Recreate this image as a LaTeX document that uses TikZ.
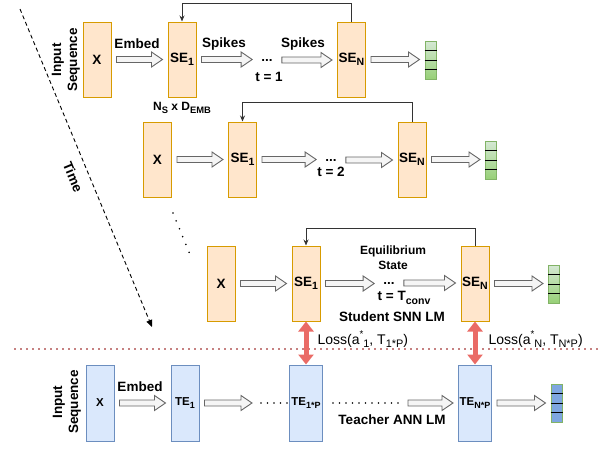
\documentclass[tikz,border=0pt]{standalone}
\usepackage{fontspec}
\setmainfont{Liberation Sans}
\usetikzlibrary{arrows.meta,calc}

\definecolor{encfill}{HTML}{FFE6CC}
\definecolor{encline}{HTML}{D79B00}
\definecolor{tchfill}{HTML}{DAE8FC}
\definecolor{tchline}{HTML}{6C8EBF}
\definecolor{vecgreen}{HTML}{97D077}
\definecolor{vecgreenlt}{HTML}{D5E8D4}
\definecolor{vecline}{HTML}{82B366}
\definecolor{vecblue}{HTML}{7EA6E0}
\definecolor{lossred}{HTML}{EA6B66}
\definecolor{sepred}{HTML}{8B0000}
\definecolor{blkfill}{HTML}{F5F5F5}
\definecolor{blkline}{HTML}{666666}

% lowered index, a bit larger than \textsubscript
\newcommand{\lo}[1]{\raisebox{-0.45ex}{\scalebox{0.78}{#1}}}
\newcommand{\hi}[1]{\raisebox{0.9ex}{\scalebox{0.7}{#1}}}

% hollow block arrow from one anchor to another
\newcommand{\flow}[2]{%
  \draw[blk] let \p1=([xshift=5pt]#1), \p2=([xshift=-5pt]#2) in
    (\x1,{\y1+3pt}) -- ({\x2-11pt},{\y1+3pt}) -- ({\x2-11pt},{\y1+7.5pt}) -- (\x2,\y1)
    -- ({\x2-11pt},{\y1-7.5pt}) -- ({\x2-11pt},{\y1-3pt}) -- (\x1,{\y1-3pt}) -- cycle;}

\begin{document}
\begin{tikzpicture}[x=1pt, y=-1pt, font=\fontsize{13.5}{16}\selectfont\bfseries]
% Define the node styles
\tikzstyle{enc} = [draw=encline, fill=encfill, line width=1pt, minimum width=28pt, minimum height=75pt, inner sep=0pt]
\tikzstyle{tch} = [draw=tchline, fill=tchfill, line width=1pt, minimum width=28pt, minimum height=76pt, inner sep=0pt, font=\fontsize{11.5}{13}\selectfont\bfseries]
\tikzstyle{vecg} = [draw=vecline, top color=vecgreenlt, bottom color=vecgreen, line width=1pt, minimum width=11pt, minimum height=38pt, inner sep=0pt]
\tikzstyle{vecb} = [draw=vecline, fill=vecblue, line width=1pt, minimum width=11pt, minimum height=38pt, inner sep=0pt]
\tikzstyle{blk} = [draw=blkline, fill=blkfill, line width=0.9pt]
\tikzstyle{fb} = [draw=black!80, line width=0.9pt, -{Stealth[length=6pt,width=5pt]}]
\tikzstyle{loss} = [draw=lossred, line width=5pt, {Triangle[width=15pt,length=10pt]}-{Triangle[width=15pt,length=10pt]}]
\tikzstyle{small} = [font=\fontsize{12}{15}\selectfont\bfseries]
\tikzstyle{dotsn} = [inner sep=4pt]
\tikzstyle{dotline} = [line width=1.8pt, line cap=round, dash pattern=on 0pt off 6.5pt]

\useasboundingbox (0,0) rectangle (602,450);

% Define the nodes, t = 1
\node[rotate=90, align=center] (IS1) at (66,60) {Input\\Sequence};
\node[enc] (X1) at (97,59.5) {X};
\node[enc] (S11) at (182,59.5) {SE\lo{1}};
\node[dotsn] (D1) at (267,60) {...};
\node[enc] (SN1) at (351.5,59.5) {SE\lo{N}};
\node[vecg] (V1) at (430.5,60) {};
\node (E1) at (137,44) {Embed};
\node (K1) at (224,44) {Spikes};
\node (K2) at (303,44) {Spikes};
\node (T1) at (269,77) {t = 1};
\node[small] (NS) at (182,108) {N\lo{S} x D\lo{EMB}};

% t = 2
\node[enc] (X2) at (157.5,159.5) {X};
\node[enc] (S12) at (242.5,159.5) {SE\lo{1}};
\node[dotsn] (D2) at (331,160) {...};
\node[enc] (SN2) at (412,159.5) {SE\lo{N}};
\node[vecg] (V2) at (491,160) {};
\node (T2) at (331,172) {t = 2};

% t = T_conv
\node[enc] (X3) at (221,283.5) {X};
\node[enc] (S13) at (306,283.5) {SE\lo{1}};
\node[dotsn] (D3) at (389,283) {...};
\node[enc] (SN3) at (475,283.5) {SE\lo{N}};
\node[vecg] (V3) at (554,284) {};
\node[small, align=center] (EQ) at (393,258) {Equilibrium\\State};
\node (T3) at (404,298) {t = T\lo{conv}};
\node (SL) at (392,317) {Student SNN LM};

% teacher
\node[rotate=90, align=center] (IS4) at (67,402) {Input\\Sequence};
\node[tch] (X4) at (100,403) {X};
\node[tch] (T14) at (185,403) {TE\lo{1}};
\node[tch, minimum width=33pt] (TP) at (306,403) {TE\lo{1*P}};
\node[tch, minimum width=33pt] (TNP) at (475,403) {TE\lo{N*P}};
\node[vecb] (V4) at (556.5,403) {};
\node (E4) at (140,387) {Embed};
\node (TL) at (392,420) {Teacher ANN LM};
\coordinate (g1) at (257,403);
\coordinate (g2) at (403,403);

% Loss labels
\node[anchor=west, font=\fontsize{14}{16}\selectfont] (L1) at (314,339) {Loss(a\hi{*}\lo{1}, T\lo{1*P})};
\node[anchor=west, font=\fontsize{14}{16}\selectfont] (L2) at (485,339) {Loss(a\hi{*}\lo{N}, T\lo{N*P})};

% time axis
\coordinate (tA) at (20,9);
\coordinate (tB) at (152,327);
\draw[dashed, dash pattern=on 4pt off 3pt, line width=0.9pt, -{Triangle[length=7pt,width=6pt]}] (tA) -- (tB);
\node[rotate=-67.5] (TM) at (73,177) {Time};
\coordinate (dA) at (173,213);
\coordinate (dB) at (191,257);
\draw[dotline, dash pattern=on 0pt off 8.5pt] (dA) -- (dB);

% separator
\coordinate (sepL) at (15,349);
\coordinate (sepR) at (600,349);
\draw[dotline, sepred, dash pattern=on 0pt off 6pt] (sepL) -- (sepR);

% Define the transitions
\flow{X1.east}{S11.west}
\flow{S11.east}{D1.west}
\flow{D1.east}{SN1.west}
\flow{SN1.east}{V1.west}

\flow{X2.east}{S12.west}
\flow{S12.east}{D2.west}
\flow{D2.east}{SN2.west}
\flow{SN2.east}{V2.west}

\flow{X3.east}{S13.west}
\flow{S13.east}{D3.west}
\flow{D3.east}{SN3.west}
\flow{SN3.east}{V3.west}

\flow{X4.east}{T14.west}
\flow{T14.east}{g1}
\draw[dotline] ([xshift=4pt]g1) -- (TP.west);
\draw[dotline] ([xshift=10pt]TP.east) -- (g2);
\flow{g2}{TNP.west}
\flow{TNP.east}{V4.west}

% feedback from the last encoder
\draw[fb] (SN1.north) -- ++(0,-18) -| (S11.north);
\draw[fb] (SN2.north) -- ++(0,-19) -| (S12.north);
\draw[fb] (SN3.north) -- ++(0,-17) -| (S13.north);

% distillation losses
\draw[loss] (S13.south) -- (TP.north);
\draw[loss] (SN3.south) -- (TNP.north);

% cells of the outputs
\foreach \v in {V1,V2,V3,V4}
  \foreach \f in {0.25,0.5,0.75}
    \draw[line width=0.8pt] ($(\v.north west)!\f!(\v.south west)$) -- ($(\v.north east)!\f!(\v.south east)$);

\end{tikzpicture}
\end{document}
